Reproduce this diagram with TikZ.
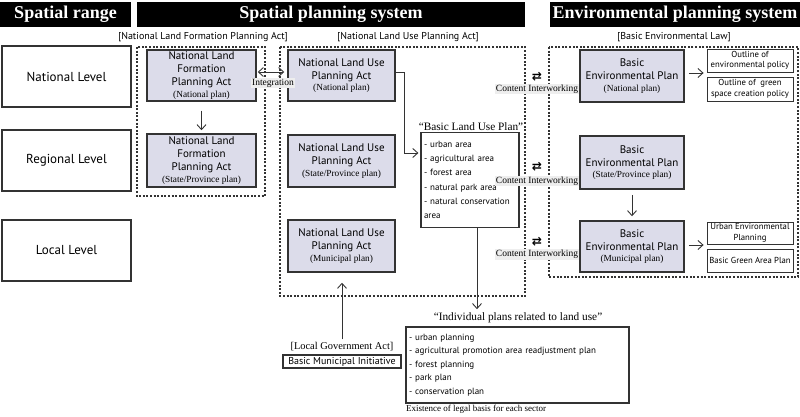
\documentclass[tikz,border=0pt]{standalone}
\usepackage{fontspec}
\setmainfont{Liberation Serif}
\setsansfont{PT Sans}
\newfontfamily\symfont{DejaVu Sans}
\usetikzlibrary{arrows.meta}

\definecolor{planfill}{HTML}{DCDCEA}
\definecolor{edge}{HTML}{333333}
\definecolor{tagfill}{HTML}{EEEEEE}

\newcommand{\subfnt}{\rmfamily\fontsize{9.3}{10}\selectfont}

\begin{document}
\begin{tikzpicture}[x=1pt,y=-1pt,
  header/.style={fill=black,text=white,inner sep=0pt,minimum height=25pt,
    font=\rmfamily\bfseries\fontsize{18}{20}\selectfont},
  level/.style={draw=edge,line width=1.3pt,inner sep=0pt,minimum width=129pt,
    minimum height=61pt,font=\sffamily\fontsize{13}{15}\selectfont},
  plan/.style={draw=edge,line width=1.5pt,fill=planfill,align=center,inner sep=0pt,
    font=\sffamily\fontsize{11}{13}\selectfont},
  act/.style={inner sep=0pt,font=\sffamily\fontsize{10}{12}\selectfont},
  group/.style={draw=edge,line width=1.2pt,dash pattern=on 2pt off 1.6pt},
  note/.style={draw=edge,line width=0.8pt,align=center,inner sep=0pt,minimum width=86pt,
    font=\sffamily\fontsize{8.7}{10.5}\selectfont},
  listbox/.style={draw=edge,line width=1.2pt,align=left,inner xsep=3pt,inner ysep=0pt,
    font=\sffamily\fontsize{9}{14.3}\selectfont},
  title/.style={inner sep=0pt,font=\rmfamily\fontsize{11.3}{13}\selectfont},
  tag/.style={fill=tagfill,inner sep=1pt,font=\rmfamily\fontsize{9.5}{11}\selectfont},
  swap/.style={inner sep=0pt,font=\symfont\bfseries\fontsize{12}{12}\selectfont},
  arr/.style={-{Straight Barb[length=5pt,width=9pt]},line width=0.9pt,draw=edge},
  darr/.style={{Straight Barb[length=5pt,width=9pt]}-{Straight Barb[length=5pt,width=9pt]},
    line width=0.9pt,draw=edge},
]
\useasboundingbox (0,0) rectangle (800,417);

% column headers
\node [header,minimum width=131pt] (hRange)   at (65.5, 14.5) {Spatial range};
\node [header,minimum width=388pt] (hSpatial) at (331, 14.5)  {Spatial planning system};
\node [header,minimum width=250pt] (hEnv)     at (675, 14.5)  {Environmental planning system};

% levels
\node [level] (lvNat) at (66.5, 76.5)  {National Level};
\node [level] (lvReg) at (66.5, 160.5) {Regional Level};
\node [level] (lvLoc) at (66.5, 250.5) {Local Level};

% law groups
\draw [group] (137,47) rectangle (265,196);
\draw [group] (280,47) rectangle (525,296);
\draw [group] (549,47) rectangle (798,277);
\node [act] (actNlf) at (203, 37) {[National Land Formation Planning Act]};
\node [act] (actNlu) at (408, 37) {[National Land Use Planning Act]};
\node [act] (actBel) at (674, 37) {[Basic Environmental Law]};

% national land formation
\node [plan,minimum width=109pt,minimum height=51pt] (nlfNat) at (201.5, 75.5)
  {National Land\\Formation\\Planning Act\\[-1.5pt]{\subfnt (National plan)}};
\node [plan,minimum width=109pt,minimum height=53pt] (nlfReg) at (201.5, 160.5)
  {National Land\\Formation\\Planning Act\\[-1.5pt]{\subfnt (State/Province plan)}};

% national land use
\node [plan,minimum width=107pt,minimum height=51pt] (nluNat) at (341.5, 75.5)
  {National Land Use\\Planning Act\\[-1.5pt]{\subfnt (National plan)}};
\node [plan,minimum width=107pt,minimum height=52pt] (nluReg) at (341.5, 161)
  {National Land Use\\Planning Act\\[-1.5pt]{\subfnt (State/Province plan)}};
\node [plan,minimum width=107pt,minimum height=52pt] (nluMun) at (341.5, 246)
  {National Land Use\\Planning Act\\[-1.5pt]{\subfnt (Municipal plan)}};

\node [title] (bluTitle) at (471, 127) {``Basic Land Use Plan''};
\node [listbox,text width=92pt,minimum height=95pt] (blu) at (470, 180)
  {- urban area\\- agricultural area\\- forest area\\- natural park area\\- natural conservation\\area};

% basic environmental plans
\node [plan,minimum width=104pt,minimum height=52pt] (bepNat) at (632, 76)
  {Basic\\Environmental Plan\\[-1.5pt]{\subfnt (National plan)}};
\node [plan,minimum width=104pt,minimum height=53pt] (bepReg) at (632, 162.5)
  {Basic\\Environmental Plan\\[-1.5pt]{\subfnt (State/Province plan)}};
\node [plan,minimum width=104pt,minimum height=51pt] (bepMun) at (632, 246.5)
  {Basic\\Environmental Plan\\[-1.5pt]{\subfnt (Municipal plan)}};

\node [note,minimum height=23pt] (envPol) at (750, 60.5) {Outline of\\environmental policy};
\node [note,minimum height=24pt] (grnPol) at (750, 89)   {Outline of~ green\\space creation policy};
\node [note,minimum height=22pt] (urbEnv) at (750, 233)  {Urban Environmental\\Planning};
\node [note,minimum height=23pt] (grnPln) at (750, 260.5) {Basic Green Area Plan};

% content interworking
\node [swap] (swNat) at (537, 77)  {⇄};
\node [swap] (swReg) at (537, 167) {⇄};
\node [swap] (swMun) at (537, 242) {⇄};
\node [tag] (ciNat) at (537, 89)  {Content Interworking};
\node [tag] (ciReg) at (537, 181) {Content Interworking};
\node [tag] (ciMun) at (537, 254.5) {Content Interworking};

% individual plans
\node [title] (indTitle) at (518, 318) {``Individual plans related to land use''};
\node [listbox,text width=217pt,minimum height=76pt,font=\sffamily\fontsize{9}{13.5}\selectfont]
  (indiv) at (517.5, 365)
  {- urban planning\\- agricultural promotion area readjustment plan\\- forest planning\\- park plan\\- conservation plan};
\node [anchor=west,inner sep=0pt,font=\rmfamily\fontsize{9}{10}\selectfont] (indNote) at (406, 409)
  {Existence of legal basis for each sector};

% local government
\node [inner sep=0pt,font=\rmfamily\fontsize{10.4}{12}\selectfont] (lgaCap) at (342, 347) {[Local Government Act]};
\node [draw=edge,line width=1.2pt,inner sep=0pt,minimum width=118pt,minimum height=13pt,
  font=\sffamily\fontsize{10}{11}\selectfont] (bmi) at (342, 361.5) {Basic Municipal Initiative};

% connectors
\draw [arr,shorten <=9pt,shorten >=3pt] (nlfNat.south) -- (nlfReg.north);
\draw [darr,shorten <=1pt,shorten >=3pt] ([yshift=3.5pt]nlfNat.east) -- ([yshift=3.5pt]nlfNat.east -| nluNat.west);
\node [tag] (integ) at (273, 83) {Integration};
\draw [arr,shorten >=2pt] ([yshift=3.5pt]nluNat.east) -- ++(9,0) |- ([yshift=27pt]blu.west);
\draw [arr,shorten >=3.5pt] ([xshift=7pt]blu.south) -- ([xshift=7pt]blu.south |- indTitle.north);
\draw [arr,shorten <=3pt,shorten >=10pt] (lgaCap.north) -- (lgaCap.north |- nluMun.south);
\draw [arr,shorten <=4pt,shorten >=3pt] ([yshift=3pt]bepNat.east) -- ([yshift=3pt]bepNat.east -| envPol.west);
\draw [arr,shorten <=5pt,shorten >=4pt] (bepReg.south) -- (bepMun.north);
\draw [arr,shorten <=4pt,shorten >=3pt] ([yshift=1.5pt]bepMun.east) -- ([yshift=1.5pt]bepMun.east -| urbEnv.west);
\end{tikzpicture}
\end{document}
